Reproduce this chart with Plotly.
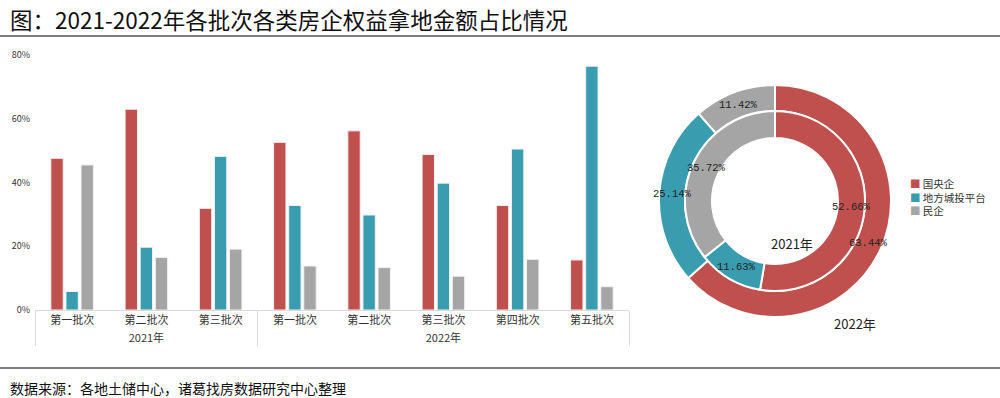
import math
import plotly.graph_objects as go

# ---- data ----
years = ["2021年"] * 3 + ["2022年"] * 5
batches = ["第一批次", "第二批次", "第三批次",
           "第一批次", "第二批次", "第三批次", "第四批次", "第五批次"]
series_names = ["国央企", "地方城投平台", "民企"]
soe = [47.6, 63.0, 31.9, 52.6, 56.2, 48.8, 32.8, 15.7]
lgfv = [5.8, 19.7, 48.2, 32.8, 29.8, 39.8, 50.5, 76.5]
private = [45.5, 16.5, 19.1, 13.8, 13.3, 10.6, 15.9, 7.3]
y_ticks = [0, 20, 40, 60, 80]
y_tick_labels = ["0%", "20%", "40%", "60%", "80%"]

donut_2021 = [52.66, 11.63, 35.72]
donut_2022 = [63.44, 25.14, 11.42]

colors = ["#C0504D", "#3A9DAF", "#A5A5A5"]
FONT = "Noto Sans CJK SC"
W, H = 1000, 398

fig = go.Figure()
for name, vals, c in zip(series_names, [soe, lgfv, private], colors):
    fig.add_trace(go.Bar(
        x=[years, batches], y=vals, name=name,
        marker=dict(color=c, line=dict(color="#F2F2F2", width=1)),
        showlegend=False, hoverinfo="y",
    ))

def px_dom_x(cx, r):
    return [(cx - r) / W, (cx + r) / W]

def px_dom_y(cy, r):
    return [1 - (cy + r) / H, 1 - (cy - r) / H]

cx, cy = 775, 201
R_OUT, R_MID, R_IN = 116, 90, 63

annotations = []

def ring_labels(values, r_outer, r_inner):
    total = sum(values)
    cum = 0.0
    rmid = (r_outer + r_inner) / 2
    for v in values:
        frac = (cum + v / 2) / total
        ang = 2 * math.pi * frac
        px = cx + rmid * math.sin(ang)
        py = cy - rmid * math.cos(ang)
        annotations.append(dict(
            text=f"{v:.2f}%", x=px / W, y=1 - py / H, xref="paper", yref="paper",
            xanchor="center", yanchor="middle", showarrow=False,
            font=dict(family="Liberation Mono", size=10.5, color="#222222")))
        cum += v

for vals, r_o, r_i in [(donut_2022, R_OUT, R_MID), (donut_2021, R_MID, R_IN)]:
    fig.add_trace(go.Pie(
        values=vals, labels=series_names, sort=False, direction="clockwise",
        rotation=0, hole=r_i / r_o,
        marker=dict(colors=colors, line=dict(color="white", width=2)),
        textinfo="none",
        domain=dict(x=px_dom_x(cx, r_o), y=px_dom_y(cy, r_o)),
        showlegend=False,
    ))
    ring_labels(vals, r_o, r_i)

annotations += [
    dict(text="图：2021-2022年各批次各类房企权益拿地金额占比情况", x=8 / W, y=1 - 19 / H,
         xref="paper", yref="paper", xanchor="left", yanchor="middle", showarrow=False,
         font=dict(family=FONT, size=22.5, color="#111111")),
    dict(text="数据来源：各地土储中心，诸葛找房数据研究中心整理", x=8 / W, y=1 - 388 / H,
         xref="paper", yref="paper", xanchor="left", yanchor="middle", showarrow=False,
         font=dict(family=FONT, size=14, color="#111111")),
    dict(text="2021年", x=792 / W, y=1 - 243 / H, xref="paper", yref="paper",
         xanchor="center", yanchor="middle",
         showarrow=False, font=dict(family=FONT, size=13, color="#222222")),
    dict(text="2022年", x=855 / W, y=1 - 323 / H, xref="paper", yref="paper",
         xanchor="center", yanchor="middle",
         showarrow=False, font=dict(family=FONT, size=13, color="#222222")),
]
legend_text = "<br>".join(
    f'<span style="color:{c}">■</span> {n}' for n, c in zip(series_names, colors))
annotations.append(dict(
    text=legend_text, x=908 / W, y=1 - 197 / H, xref="paper", yref="paper",
    xanchor="left", yanchor="middle", align="left", showarrow=False,
    font=dict(family=FONT, size=10.5, color="#333333")))

shapes = [
    dict(type="line", xref="paper", yref="paper", x0=0, x1=1,
         y0=1 - 36 / H, y1=1 - 36 / H, line=dict(color="#7F7F7F", width=2)),
    dict(type="line", xref="paper", yref="paper", x0=0, x1=1,
         y0=1 - 368 / H, y1=1 - 368 / H, line=dict(color="#7F7F7F", width=2)),
]

fig.update_layout(
    width=W, height=H,
    margin=dict(l=0, r=0, t=0, b=0, autoexpand=False),
    paper_bgcolor="white", plot_bgcolor="white",
    showlegend=False,
    barmode="group", bargap=0.39, bargroupgap=0.18,
    xaxis=dict(domain=[35 / W, 629 / W], showline=True, linecolor="#D9D9D9",
               linewidth=1, showdividers=True, dividercolor="#D9D9D9",
               dividerwidth=1, tickfont=dict(family=FONT, size=11, color="#333333"),
               ticks="outside", ticklen=10, tickcolor="rgba(0,0,0,0)",
               automargin=False),
    yaxis=dict(domain=[1 - 310 / H, 1 - 55 / H], range=[0, 80], tickvals=y_ticks,
               ticktext=y_tick_labels, showgrid=False, zeroline=False,
               showline=False, automargin=False, ticks="", ticklabelstandoff=4,
               tickfont=dict(family=FONT, size=9, color="#333333")),
    annotations=annotations, shapes=shapes,
)

fig.write_html("out.html", config={"displayModeBar": False},
               post_script="document.body.style.margin='0';document.body.style.overflow='hidden';")
